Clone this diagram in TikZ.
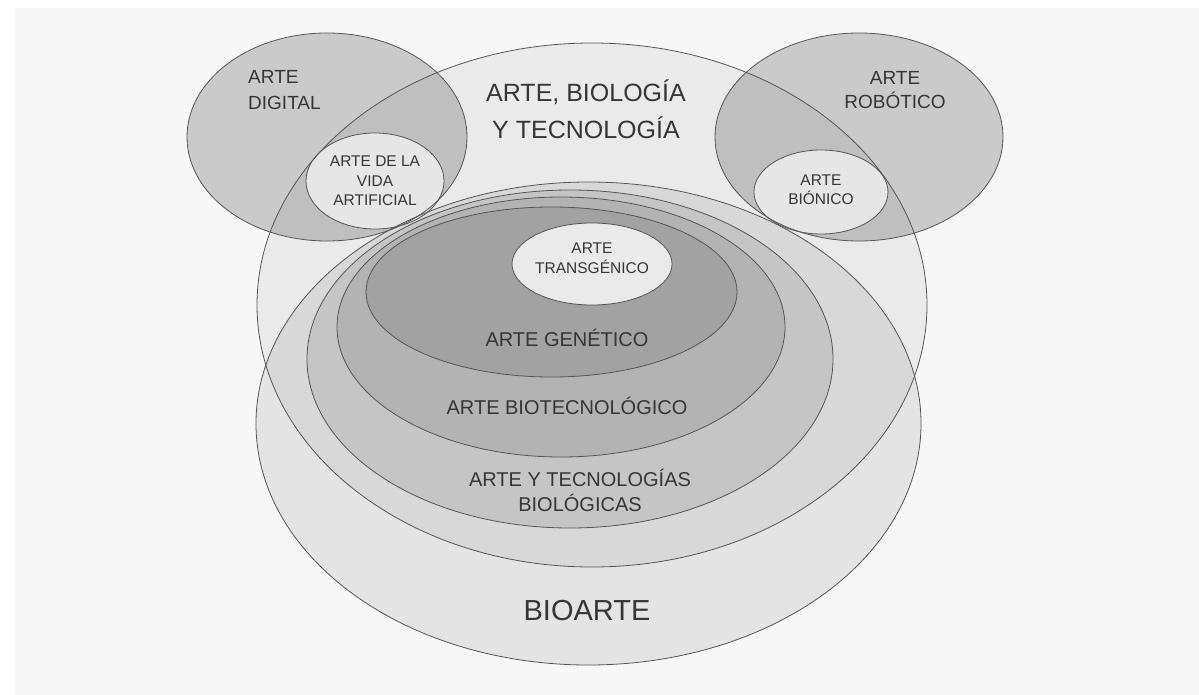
\documentclass[tikz,border=0pt]{standalone}
\usepackage{fontspec}
\setmainfont{Liberation Sans}
\definecolor{bgc}{HTML}{F7F7F7}
\definecolor{linec}{HTML}{555555}
\definecolor{txtc}{HTML}{363636}
\definecolor{palec}{HTML}{E6E6E6}
\definecolor{transc}{HTML}{EAEAEA}
\begin{document}
\begin{tikzpicture}[x=1pt,y=-1pt,
  outline/.style={draw=linec, line width=0.8pt},
  tint/.style={fill=black, fill opacity=#1},
  lbl/.style={text=txtc, inner sep=0pt, anchor=base},
  txl/.style={lbl, font=\fontsize{29}{34}\selectfont},
  tlg/.style={lbl, font=\fontsize{25}{30}\selectfont},
  tmd/.style={lbl, font=\fontsize{20}{24}\selectfont},
  tad/.style={lbl, font=\fontsize{19}{23}\selectfont},
  tsm/.style={lbl, font=\fontsize{15.5}{19}\selectfont}
]
\useasboundingbox (0,0) rectangle (1199,695);
\fill[white] (0,0) rectangle (1199,695);
\fill[bgc] (15,8) rectangle (1199,695);

% shaded (multiplying) areas
\fill[tint=0.05]  (592,305) ellipse [x radius=335pt, y radius=262pt];     % arte, biologia y tecnologia
\fill[tint=0.075] (588.5,423.5) ellipse [x radius=332.5pt, y radius=241.5pt]; % bioarte
\fill[tint=0.085] (570,359) ellipse [x radius=263pt, y radius=169pt];     % tecnologias biologicas
\fill[tint=0.09]  (561,327) ellipse [x radius=224pt, y radius=130pt];     % biotecnologico
\fill[tint=0.09]  (551.5,292) ellipse [x radius=185.5pt, y radius=85pt];  % genetico
\fill[tint=0.18]  (327,137) ellipse [x radius=140pt, y radius=104pt];     % digital
\fill[tint=0.18]  (859,137) ellipse [x radius=144pt, y radius=104pt];     % robotico
% opaque light areas
\fill[palec]  (375,181) ellipse [x radius=69pt, y radius=48pt];  % vida artificial
\fill[palec]  (821,192) ellipse [x radius=67pt, y radius=42pt];  % bionico
\fill[transc] (592,264) ellipse [x radius=80pt, y radius=41pt];  % transgenico

% outlines
\draw[outline] (592,305) ellipse [x radius=335pt, y radius=262pt];
\draw[outline] (588.5,423.5) ellipse [x radius=332.5pt, y radius=241.5pt];
\draw[outline] (570,359) ellipse [x radius=263pt, y radius=169pt];
\draw[outline] (561,327) ellipse [x radius=224pt, y radius=130pt];
\draw[outline] (551.5,292) ellipse [x radius=185.5pt, y radius=85pt];
\draw[outline] (327,137) ellipse [x radius=140pt, y radius=104pt];
\draw[outline] (859,137) ellipse [x radius=144pt, y radius=104pt];
\draw[outline] (375,181) ellipse [x radius=69pt, y radius=48pt];
\draw[outline] (821,192) ellipse [x radius=67pt, y radius=42pt];
\draw[outline] (592,264) ellipse [x radius=80pt, y radius=41pt];

% labels
\node[tlg] (abt1) at (586,102) {ARTE, BIOLOGÍA};
\node[tlg] (abt2) at (586,139) {Y TECNOLOGÍA};
\node[tad, anchor=base west] (ad1) at (248,84) {ARTE};
\node[tad, anchor=base west] (ad2) at (248,110) {DIGITAL};
\node[tad] (ar1) at (895,85) {ARTE};
\node[tad] (ar2) at (895,109) {ROBÓTICO};
\node[tsm] (va1) at (375,166.5) {ARTE DE LA};
\node[tsm] (va2) at (375,186.5) {VIDA};
\node[tsm] (va3) at (375,205.5) {ARTIFICIAL};
\node[tsm] (bn1) at (821,185.5) {ARTE};
\node[tsm] (bn2) at (821,204.5) {BIÓNICO};
\node[tsm] (tg1) at (592,253.5) {ARTE};
\node[tsm] (tg2) at (592,273.5) {TRANSGÉNICO};
\node[tmd] (gen) at (567,346.5) {ARTE GENÉTICO};
\node[tmd] (btc) at (567,414.5) {ARTE BIOTECNOLÓGICO};
\node[tmd] (atb1) at (580,486.5) {ARTE Y TECNOLOGÍAS};
\node[tmd] (atb2) at (580,511.5) {BIOLÓGICAS};
\node[txl] (bio) at (587,620.5) {BIOARTE};
\end{tikzpicture}
\end{document}
